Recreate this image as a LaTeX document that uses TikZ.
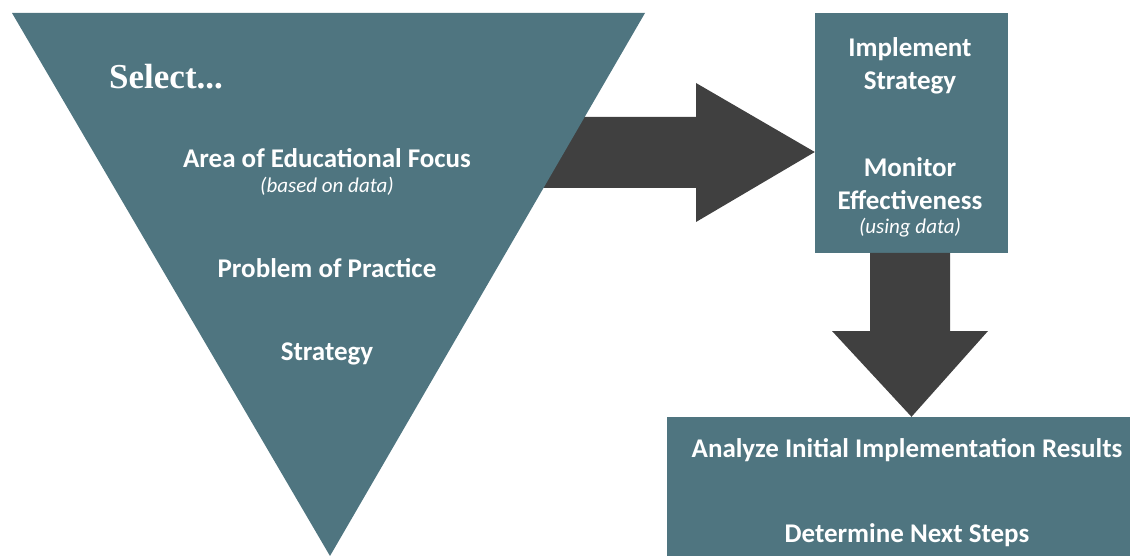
\documentclass[tikz,border=0pt]{standalone}
\usepackage{fontspec}
\setmainfont{Carlito}
\newfontfamily\headfont{Liberation Serif}
\usepackage{tikz}
\usetikzlibrary{positioning, calc}
\definecolor{stTeal}{RGB}{79, 117, 128}
\definecolor{stDark}{RGB}{64, 64, 64}
\tikzset{
    base/.style={
        font=\bfseries\fontsize{27}{33}\selectfont,
        text=white,
        align=center,
        inner sep=0pt
    },
    note/.style={
        base,
        font=\itshape\fontsize{21}{25}\selectfont
    },
    heading/.style={
        base,
        anchor=west,
        font=\headfont\bfseries\fontsize{35}{42}\selectfont
    },
    panel/.style={
        rectangle,
        fill=stTeal,
        draw=none,
        inner sep=0pt
    },
    blockarrow/.style={
        fill=stDark,
        draw=none
    }
}

\begin{document}
\begin{tikzpicture}[x=1pt, y=-1pt]
  \useasboundingbox (0,0) rectangle (1130,556);

  % Boxes
  \node[panel, minimum width=193pt, minimum height=240pt] (act) at (911.5,133) {};
  \node[panel, minimum width=480pt, minimum height=160pt] (review) at (907,497) {};

  % Arrows (before the funnel, so the shaft runs under it)
  \coordinate (tipA) at (act.west |- 0,152);
  \coordinate (tipB) at (act.south |- review.north);
  \fill[blockarrow] (520,117) -- (696,117) -- (696,83) -- (tipA)
    -- (696,222) -- (696,188) -- (520,188) -- cycle;
  \fill[blockarrow] (870,253) -- (950,253) -- (950,331) -- (988,331)
    -- (tipB) -- (832,331) -- (870,331) -- cycle;

  % Funnel
  \fill[stTeal] (12,13) -- (645,13) -- (330,556) -- cycle;

  % Funnel labels
  \node[heading] (select) at (109,77) {Select...};
  \node[base] (focus) at (327,158) {Area of Educational Focus};
  \node[note] (focusnote) at (327,186) {(based on data)};
  \node[base] (problem) at (327,268) {Problem of Practice};
  \node[base] (strategy) at (327,354) {Strategy};

  % Box labels
  \node[base] (implement) at (910,66) {Implement\\Strategy};
  \node[base] (monitor) at (910,184) {Monitor\\Effectiveness};
  \node[note] (monitornote) at (910,228) {(using data)};
  \node[base] (analyze) at (907,450) {Analyze Initial Implementation Results};
  \node[base] (nextsteps) at (907,535) {Determine Next Steps};

\end{tikzpicture}
\end{document}
